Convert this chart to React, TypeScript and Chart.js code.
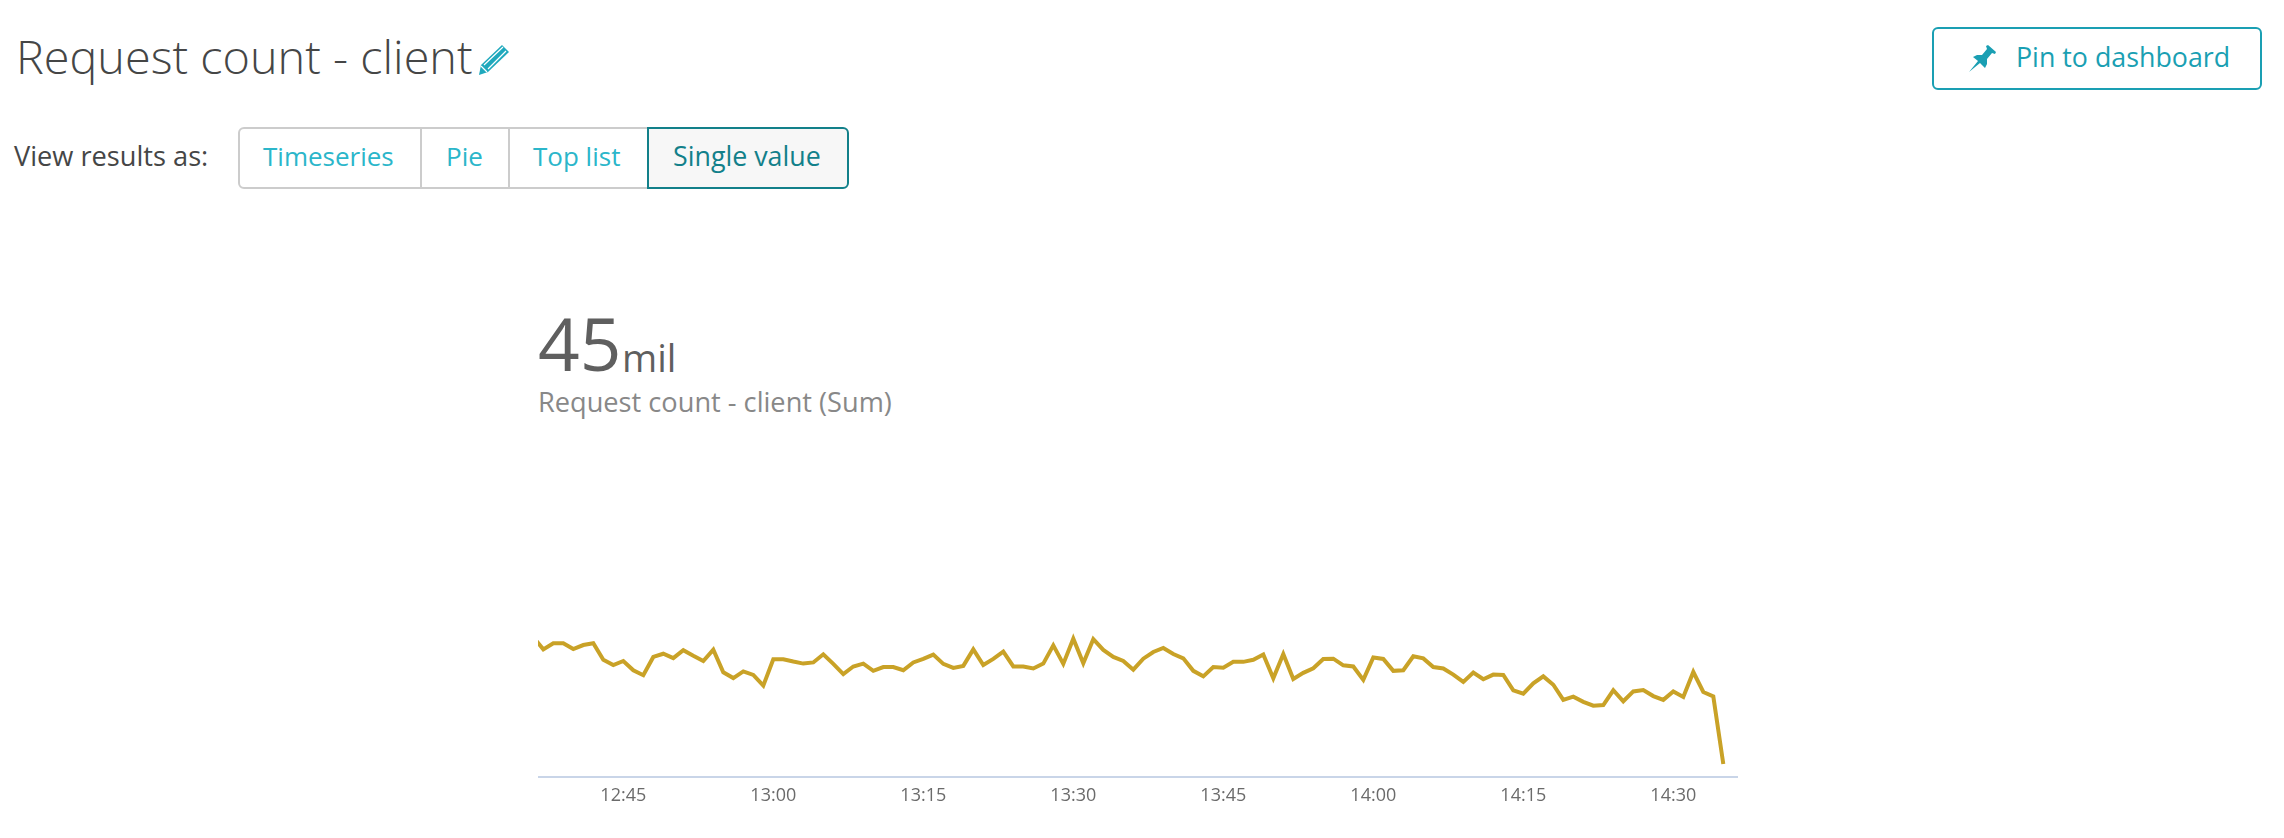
import React, { useEffect, useRef } from "react";
import { Chart, registerables } from "chart.js";

Chart.register(...registerables);

const titleText = "Request count - client";
const viewLabel = "View results as:";
const viewOptions = ["Timeseries", "Pie", "Top list", "Single value"];
const pinLabel = "Pin to dashboard";
const bigValue = "45";
const bigUnit = "mil";
const seriesName = "Request count - client (Sum)";

const startHour = 12;
const startMinute = 36;
// Requests per minute, in thousands, one value per minute from 12:36 to 14:35.
const requestsPerMinute = [
  481, 439, 460, 460, 440, 454, 460, 403, 385, 399, 367, 350, 413, 424, 409, 436, 417, 399, 438, 360,
  340, 363, 351, 314, 405, 405, 397, 390, 394, 422, 389, 354, 380, 390, 365, 378, 378, 367, 394, 406,
  421, 389, 375, 382, 439, 385, 406, 431, 380, 380, 373, 390, 453, 389, 476, 391, 474, 437, 413, 399,
  369, 407, 430, 444, 423, 408, 365, 346, 378, 376, 396, 396, 403, 421, 339, 423, 337, 358, 374, 406,
  407, 384, 380, 334, 411, 406, 365, 367, 415, 408, 378, 373, 352, 327, 359, 336, 352, 351, 298, 286,
  322, 346, 317, 265, 276, 258, 245, 247, 298, 260, 294, 299, 278, 265, 294, 275, 361, 292, 277, 44,
];
const tickMinutes = [765, 780, 795, 810, 825, 840, 855, 870];

const FONT = "'Open Sans', Lato, sans-serif";

const minuteLabel = (m: number) =>
  `${Math.floor(m / 60)}:${String(Math.round(m % 60)).padStart(2, "0")}`;

function Text(props: { x: number; base: number; size: number; color: string; weight?: number; children: React.ReactNode; spacing?: number }) {
  const { x, base, size, color, weight = 400, children, spacing = 0 } = props;
  return (
    <div
      style={{
        position: "absolute",
        left: x,
        top: base - size * 1.01,
        height: size * 1.2,
        lineHeight: `${size * 1.2}px`,
        fontFamily: FONT,
        fontSize: size,
        fontWeight: weight,
        color,
        letterSpacing: spacing,
        whiteSpace: "nowrap",
      }}
    >
      {children}
    </div>
  );
}

function LineChart() {
  const ref = useRef<HTMLCanvasElement>(null);
  useEffect(() => {
    const first = startHour * 60 + startMinute;
    const points = requestsPerMinute.map((v, i) => ({ x: first + i, y: v }));
    const chart = new Chart(ref.current!, {
      type: "line",
      data: {
        datasets: [
          {
            label: seriesName,
            data: points,
            borderColor: "#c9a227",
            borderWidth: 4,
            pointRadius: 0,
            tension: 0,
            borderJoinStyle: "miter",
            borderCapStyle: "butt",
          },
        ],
      },
      options: {
        animation: false,
        responsive: false,
        parsing: false,
        normalized: true,
        layout: { padding: 0 },
        plugins: { legend: { display: false }, tooltip: { enabled: false }, title: { display: false } },
        scales: {
          x: {
            type: "linear",
            min: 756.47,
            max: 876.47,
            afterBuildTicks: (s: any) => {
              s.ticks = tickMinutes.map((value) => ({ value }));
            },
            afterFit: (s: any) => {
              s.height = 39.3;
            },
            grid: { display: false, drawTicks: false },
            border: { display: true, color: "#c9d5e8", width: 2 },
            ticks: {
              includeBounds: false,
              maxRotation: 0,
              autoSkip: false,
              padding: 8,
              color: "#6b6b6b",
              font: { family: FONT, size: 18 },
              callback: (v: any) => minuteLabel(Number(v)),
            },
          },
          y: { display: false, min: 0, max: 692 },
        },
      },
    });
    return () => chart.destroy();
  }, []);
  return (
    <canvas
      ref={ref}
      width={1200}
      height={240}
      style={{ position: "absolute", left: 538, top: 576, width: 1200, height: 240, display: "block" }}
    />
  );
}

const tabEdges = [238, 420, 508, 647, 849];
const tabTextX = [263, 446, 533, 673];
const tabSizes = [26, 26, 26, 26.8];

export default function App() {
  return (
    <div style={{ position: "absolute", left: 0, top: 0, width: 2284, height: 838, overflow: "hidden", background: "#fff" }}>
      <Text x={16} base={75} size={46.8} color="#454646" weight={300}>{titleText}</Text>
      <svg style={{ position: "absolute", left: 478, top: 43 }} width={33} height={33} viewBox="0 0 33 33">
        <path d="M1 32 L3 22 L24 2 L31 9 L10 29 Z" fill="#1fa9bd" />
        <path d="M6 22 L25 4 M10 26 L28 8 M3 23 L9 29" stroke="#fff" strokeWidth={1.2} fill="none" />
      </svg>

      <Text x={14} base={167} size={27.2} color="#454646">{viewLabel}</Text>

      <div style={{ position: "absolute", left: tabEdges[0], top: 127, width: tabEdges[3] - tabEdges[0] + 8, height: 62, boxSizing: "border-box", border: "2px solid #cccccc", borderRadius: 6 }} />
      <div style={{ position: "absolute", left: tabEdges[1], top: 127, width: 2, height: 62, background: "#cccccc" }} />
      <div style={{ position: "absolute", left: tabEdges[2], top: 127, width: 2, height: 62, background: "#cccccc" }} />
      <div style={{ position: "absolute", left: tabEdges[3], top: 127, width: tabEdges[4] - tabEdges[3], height: 62, boxSizing: "border-box", border: "2px solid #12808a", borderRadius: "0 6px 6px 0", background: "#f7f7f7" }} />
      {viewOptions.map((o, i) => (
        <Text key={o} x={tabTextX[i]} base={167} size={tabSizes[i]} color={i === 3 ? "#12808a" : "#2bb6ca"}>{o}</Text>
      ))}

      <div style={{ position: "absolute", left: 1932, top: 27, width: 330, height: 63, boxSizing: "border-box", border: "2px solid #1a9fb3", borderRadius: 6 }} />
      <svg style={{ position: "absolute", left: 1968, top: 44 }} width={29} height={28} viewBox="0 0 29 28">
        <path d="M1 28 L10 17 L5 13 L9 11 L14 11 L19 5 L18 2 L20 1 L28 8 L27 10 L24 9 L19 15 L19 20 L17 24 L12 19 Z" fill="#1a9fb3" />
      </svg>
      <Text x={2016} base={68} size={26.8} color="#1a9fb3">{pinLabel}</Text>

      <Text x={538} base={373} size={73} color="#5f5f5f">{bigValue}</Text>
      <Text x={622} base={373} size={38} color="#5f5f5f">{bigUnit}</Text>
      <Text x={538} base={413} size={27.2} color="#888888">{seriesName}</Text>

      <LineChart />
    </div>
  );
}
